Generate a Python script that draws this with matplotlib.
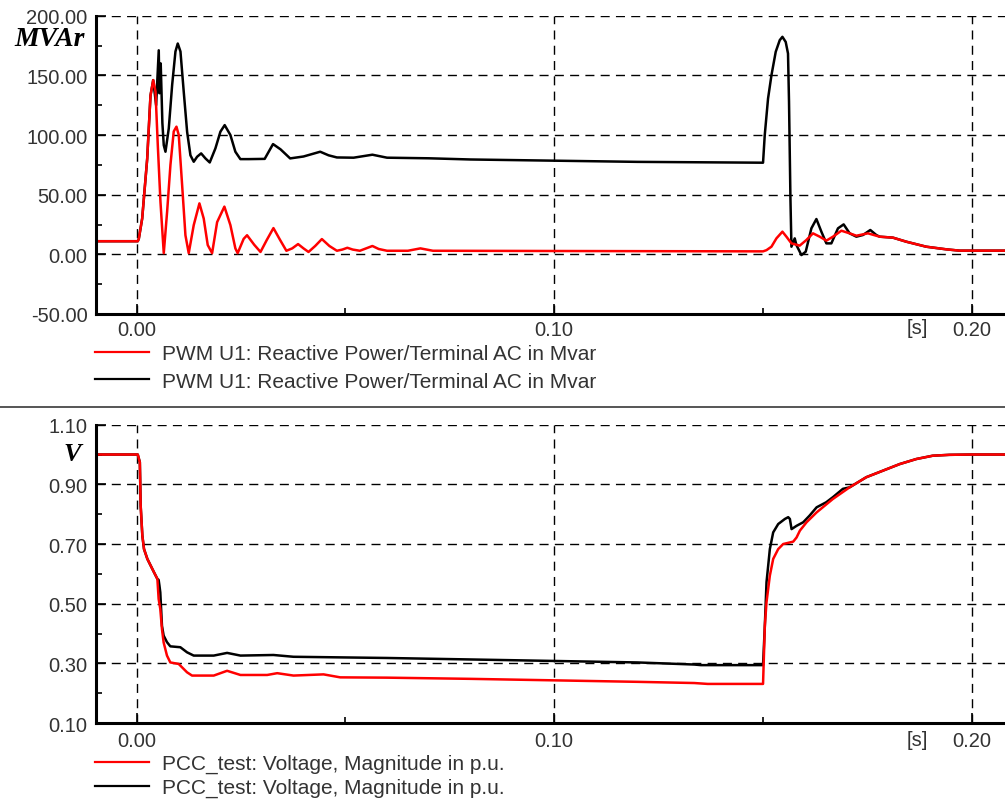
import matplotlib
matplotlib.use("Agg")
import matplotlib.pyplot as plt
from matplotlib.lines import Line2D

# ---------------- data ----------------
# Reactive power, red trace (MVAr)
q_red_t = [-0.0096, 0.0003, 0.00055, 0.00136, 0.00256, 0.00335, 0.0040, 0.00455, 0.0051,
           0.00574, 0.00653, 0.00734, 0.00813, 0.00892, 0.00957, 0.01012, 0.01093, 0.01172,
           0.01251, 0.01371, 0.01507, 0.0161, 0.01706, 0.01811, 0.01931, 0.02105, 0.02249,
           0.02368, 0.02423, 0.02567, 0.02648, 0.0282, 0.0297, 0.0312, 0.0328, 0.0344,
           0.0359, 0.0373, 0.0387, 0.0400, 0.0412, 0.0428, 0.0444, 0.0462, 0.048, 0.0493,
           0.0505, 0.0518, 0.0535, 0.055, 0.0565, 0.058, 0.060, 0.065, 0.068, 0.071, 0.10,
           0.15007, 0.15089, 0.15208, 0.15328, 0.15471, 0.15567, 0.15687, 0.15885, 0.16045,
           0.16203, 0.16364, 0.16524, 0.16682, 0.16883, 0.17081, 0.17242, 0.1752, 0.178,
           0.18117, 0.18438, 0.18916, 0.19395, 0.19713, 0.2079]
q_red_v = [11, 11, 13, 30, 80, 133, 146, 136.5, 91.5,
           44, 1, 36, 75, 103, 107, 100, 58, 16,
           1, 24.5, 42.7, 30, 7.8, 1, 27, 40, 24.5,
           5, 1, 13, 16, 8, 2, 12, 22, 12,
           3, 5, 8.6, 5, 2, 7, 12.8, 7, 3, 4,
           5.5, 4, 3, 5, 7, 4.5, 3, 3, 5, 3, 2.8,
           2.5, 3.5, 6.4, 13.4, 19, 14.8, 9.2, 7.3, 12,
           17.6, 14.8, 11.5, 14.8, 19.8, 17.6, 15.6, 17.6, 14.8,
           14, 10.6, 6.4, 4.2, 3.1, 3.1]

# Reactive power, black trace (MVAr)
q_blk_t = [-0.0096, 0.0003, 0.00055, 0.00136, 0.00256, 0.00335, 0.0040, 0.0047, 0.00533,
           0.0055, 0.0058, 0.0062, 0.00653, 0.00694, 0.00773, 0.00854, 0.00933, 0.00988,
           0.01053, 0.01132, 0.01213, 0.01292, 0.01371, 0.01452, 0.01548, 0.01651, 0.01754,
           0.0189, 0.0201, 0.02112, 0.02249, 0.02368, 0.02488, 0.02687, 0.0307, 0.0327,
           0.0345, 0.0368, 0.040, 0.044, 0.046, 0.048, 0.052, 0.0565, 0.060, 0.07, 0.08,
           0.10, 0.12, 0.15007, 0.15048, 0.15127, 0.15208, 0.15311, 0.15407, 0.15471,
           0.1555, 0.15605, 0.15629, 0.15663, 0.15687, 0.15766, 0.15806, 0.15926, 0.16029,
           0.16165, 0.16285, 0.16404, 0.16524, 0.16643, 0.16802, 0.16938, 0.17081, 0.17242,
           0.174, 0.17576, 0.1772, 0.178, 0.18117, 0.18438, 0.18916, 0.19395, 0.19713, 0.2079]
q_blk_v = [11, 11, 13, 30, 80, 133, 146, 125, 171,
           135, 160, 110, 91.5, 86, 105.5, 142, 170, 176.7,
           170, 136, 102.5, 83, 77.6, 81.8, 84.6, 80.4, 77,
           88.8, 102.8, 108.3, 100, 86, 79.8, 79.8, 80, 92.4,
           88, 80.4, 82, 86, 83, 81.2, 81, 83.5, 81, 80.5, 79.5,
           78.5, 77.5, 76.8, 100, 130.6, 150, 169.8, 179.5, 182.3,
           178, 168.3, 128, 47, 6.4, 13.4, 7.8, -0.6, 2.2,
           21.8, 29.6, 19, 9.2, 9.2, 21.8, 25.1, 17.6, 14.8,
           16.2, 20.4, 16.2, 14.8, 14, 10.6, 6.4, 4.2, 3.1, 3.1]

# Voltage, red trace (p.u.)
v_red_t = [-0.0096, 0.0003, 0.0008, 0.001, 0.0014, 0.0018, 0.0026, 0.0042, 0.005, 0.0053,
           0.0057, 0.0061, 0.0065, 0.0073, 0.0081, 0.0101, 0.0121, 0.0133, 0.0185, 0.0217,
           0.0249, 0.0313, 0.0337, 0.0376, 0.0448, 0.0488, 0.06, 0.08, 0.10, 0.12, 0.1336,
           0.1368, 0.15007, 0.1505, 0.1509, 0.1517, 0.1525, 0.1537, 0.1549, 0.1573, 0.1581,
           0.1589, 0.1605, 0.1629, 0.1668, 0.1708, 0.1748, 0.1788, 0.1828, 0.1868, 0.1907,
           0.1947, 0.2, 0.2079]
v_red_v = [1.0, 1.0, 0.974, 0.828, 0.728, 0.683, 0.65, 0.605, 0.583, 0.516,
           0.482, 0.415, 0.37, 0.326, 0.303, 0.298, 0.27, 0.259, 0.259, 0.275,
           0.261, 0.261, 0.267, 0.259, 0.263, 0.253, 0.252, 0.248, 0.243, 0.238, 0.234,
           0.231, 0.231, 0.426, 0.505, 0.594, 0.65, 0.683, 0.70, 0.708, 0.722,
           0.745, 0.773, 0.806, 0.851, 0.89, 0.924, 0.946, 0.968, 0.985, 0.996,
           0.999, 1.0, 1.0]

# Voltage, black trace (p.u.)
v_blk_t = [-0.0096, 0.0003, 0.0008, 0.001, 0.0014, 0.0018, 0.0026, 0.0042, 0.005, 0.0053,
           0.0055, 0.0057, 0.0061, 0.0065, 0.0073, 0.0081, 0.0105, 0.0121, 0.0137, 0.0185,
           0.0217, 0.0249, 0.0328, 0.0376, 0.0488, 0.06, 0.08, 0.10, 0.12, 0.1336, 0.1352,
           0.15007, 0.1505, 0.1509, 0.1513, 0.1517, 0.1525, 0.1537, 0.1553, 0.1561, 0.1565,
           0.1569, 0.1581, 0.1597, 0.1612, 0.1629, 0.1652, 0.1668, 0.1692, 0.1708, 0.1748,
           0.1788, 0.1828, 0.1868, 0.1907, 0.1947, 0.2, 0.2079]
v_blk_v = [1.0, 1.0, 0.974, 0.828, 0.728, 0.683, 0.65, 0.605, 0.583, 0.58,
           0.56, 0.538, 0.426, 0.393, 0.371, 0.357, 0.354, 0.337, 0.326, 0.326,
           0.335, 0.326, 0.328, 0.322, 0.32, 0.318, 0.313, 0.308, 0.303, 0.296, 0.294,
           0.294, 0.426, 0.572, 0.627, 0.683, 0.739, 0.767, 0.784, 0.79, 0.784,
           0.75, 0.761, 0.773, 0.795, 0.823, 0.84, 0.857, 0.885, 0.89, 0.924,
           0.946, 0.968, 0.985, 0.996, 0.999, 1.0, 1.0]

x_major = [0.0, 0.10, 0.20]
x_minor = [0.05, 0.15]
x_labels = ["0.00", "0.10", "0.20"]
q_major = [-50, 0, 50, 100, 150, 200]
q_minor = [-25, 25, 75, 125, 175]
v_major = [0.10, 0.30, 0.50, 0.70, 0.90, 1.10]
v_minor = [0.20, 0.40, 0.60, 0.80, 1.00]
q_label = "PWM U1: Reactive Power/Terminal AC in Mvar"
v_label = "PCC_test: Voltage, Magnitude in p.u."
q_unit = "MVAr"
v_unit = "V"
t_unit = "[s]"

# ---------------- layout ----------------
W, H = 1005, 803
fig = plt.figure(figsize=(W / 100, H / 100), dpi=100)
fig.patch.set_facecolor("white")

def fx(px):
    return px / W

def fy(py):
    return 1 - py / H

X0 = 136.5      # pixel of t = 0
XS = 4175.0     # pixels per second
xlim = ((96 - X0) / XS, (W - X0) / XS)

TICK_FONT = "Liberation Sans"
TXT_COL = "#333333"
RED = "#ff0000"
BLK = "#000000"

def style_axes(ax, ylim, ymaj, ymin, yfmt, xpad):
    ax.set_xlim(*xlim)
    ax.set_ylim(*ylim)
    ax.set_xticks(x_major)
    ax.set_xticklabels(x_labels)
    ax.set_xticks(x_minor, minor=True)
    ax.set_yticks(ymaj)
    ax.set_yticklabels([yfmt % v for v in ymaj])
    ax.set_yticks(ymin, minor=True)
    for s in ("top", "right"):
        ax.spines[s].set_visible(False)
    for s in ("left", "bottom"):
        ax.spines[s].set_linewidth(2.2)
        ax.spines[s].set_color("black")
    ax.grid(True, which="major", color="black", lw=1.0, ls=(0, (6.5, 4.5)))
    ax.set_axisbelow(True)
    ax.tick_params(axis="both", which="major", direction="in", length=7, width=1.2,
                   labelsize=14.5, labelcolor=TXT_COL)
    ax.tick_params(axis="both", which="minor", direction="in", length=4, width=1.2)
    ax.tick_params(axis="y", which="major", pad=6)
    ax.tick_params(axis="x", which="major", pad=xpad)
    for lab in ax.get_xticklabels() + ax.get_yticklabels():
        lab.set_fontfamily(TICK_FONT)

# top panel: reactive power
ax1 = fig.add_axes([fx(96), fy(315), (W - 96) / W, (315 - 16.7) / H])
style_axes(ax1, (-50, 200), q_major, q_minor, "%.2f", 4)
ax1.plot(q_blk_t, q_blk_v, color=BLK, lw=1.8, solid_joinstyle="round")
ax1.plot(q_red_t, q_red_v, color=RED, lw=1.8, solid_joinstyle="round")

# bottom panel: voltage
ax2 = fig.add_axes([fx(96), fy(724), (W - 96) / W, (724 - 425.7) / H])
style_axes(ax2, (0.10, 1.10), v_major, v_minor, "%.2f", 6)
ax2.plot(v_blk_t, v_blk_v, color=BLK, lw=1.8, solid_joinstyle="round")
ax2.plot(v_red_t, v_red_v, color=RED, lw=1.8, solid_joinstyle="round")

# unit labels
fig.text(fx(50), fy(40), q_unit, fontsize=20, fontfamily="Liberation Serif",
         fontweight="bold", fontstyle="italic", ha="center", va="center")
fig.text(fx(72), fy(455), v_unit, fontsize=19, fontfamily="Liberation Serif",
         fontweight="bold", fontstyle="italic", ha="center", va="center")
fig.text(fx(917), fy(328), t_unit, fontsize=14.5, fontfamily=TICK_FONT, color=TXT_COL,
         ha="center", va="center")
fig.text(fx(917), fy(741), t_unit, fontsize=14.5, fontfamily=TICK_FONT, color=TXT_COL,
         ha="center", va="center")

# legends
def add_legend(ax, label, top_px, spacing):
    handles = [Line2D([], [], color=RED, lw=1.6), Line2D([], [], color=BLK, lw=1.6)]
    leg = ax.legend(handles, [label, label], loc="upper left",
                    bbox_to_anchor=(fx(95), fy(top_px)), bbox_transform=fig.transFigure,
                    frameon=False, borderpad=0, borderaxespad=0, handlelength=2.6,
                    handletextpad=0.6, labelspacing=spacing,
                    prop={"family": TICK_FONT, "size": 15})
    for t in leg.get_texts():
        t.set_color(TXT_COL)

add_legend(ax1, q_label, 345, 0.42)
add_legend(ax2, v_label, 755, 0.22)

# separator between panels
fig.add_artist(Line2D([0, 1], [fy(408), fy(408)], transform=fig.transFigure,
                      color="#555555", lw=1.4))

fig.savefig("out.png", dpi=100, facecolor="white")
